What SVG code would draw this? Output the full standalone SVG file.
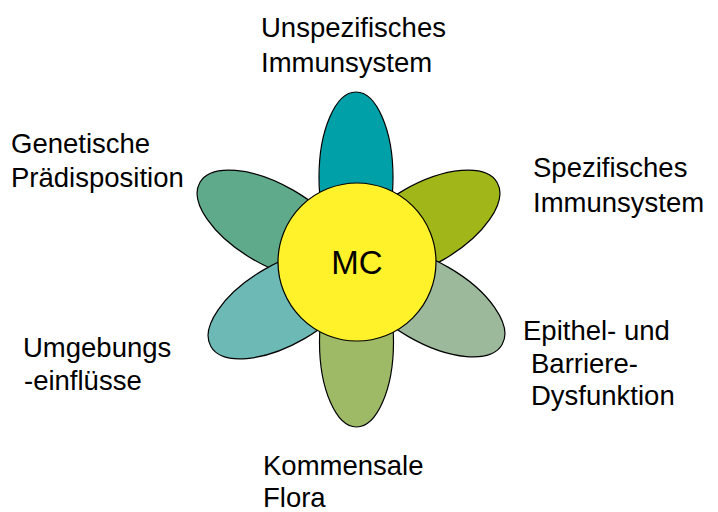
<svg xmlns="http://www.w3.org/2000/svg" width="718" height="512" viewBox="0 0 718 512">
<style>
.p{stroke:#000;stroke-width:1.2}
.t{font-family:"Liberation Sans",Arial,sans-serif;font-size:27.5px;fill:#000}
.mc{font-size:33px}
</style>
<rect width="718" height="512" fill="#fff"/>
<g id="petals">
<g id="petal-top" transform="translate(356,177)"><ellipse class="p" rx="37" ry="85" fill="#00A0A8"/></g>
<g id="petal-upper-left" transform="translate(273.5,225) rotate(-60)"><ellipse class="p" rx="40" ry="85" fill="#5FAA8A"/></g>
<g id="petal-upper-right" transform="translate(423.5,225) rotate(60)"><ellipse class="p" rx="40" ry="85" fill="#A1B619"/></g>
<g id="petal-lower-right" transform="translate(428.5,302) rotate(120)"><ellipse class="p" rx="40" ry="85" fill="#9CBA9B"/></g>
<g id="petal-lower-left" transform="translate(284.5,304) rotate(-120)"><ellipse class="p" rx="40" ry="85" fill="#6CB9B6"/></g>
<g id="petal-bottom" transform="translate(356.5,342)"><ellipse class="p" rx="37" ry="85" fill="#9EBA66"/></g>
</g>
<g id="center">
<circle class="p" cx="357" cy="262" r="79" fill="#FFF22B"/>
<text class="t mc" x="357" y="273.5" text-anchor="middle">MC</text>
</g>
<g id="label-unspez"><text class="t" x="261" y="37">Unspezifisches</text><text class="t" x="261" y="72">Immunsystem</text></g>
<g id="label-genetisch"><text class="t" x="11" y="153">Genetische</text><text class="t" x="11" y="187">Prädisposition</text></g>
<g id="label-spez"><text class="t" x="533" y="177">Spezifisches</text><text class="t" x="533" y="212">Immunsystem</text></g>
<g id="label-umgebung"><text class="t" x="23" y="357">Umgebungs</text><text class="t" x="24" y="390">-einflüsse</text></g>
<g id="label-epithel"><text class="t" x="523" y="340">Epithel- und</text><text class="t" x="531" y="373">Barriere-</text><text class="t" x="531" y="405">Dysfunktion</text></g>
<g id="label-flora"><text class="t" x="263" y="475">Kommensale</text><text class="t" x="263" y="507">Flora</text></g>
</svg>
